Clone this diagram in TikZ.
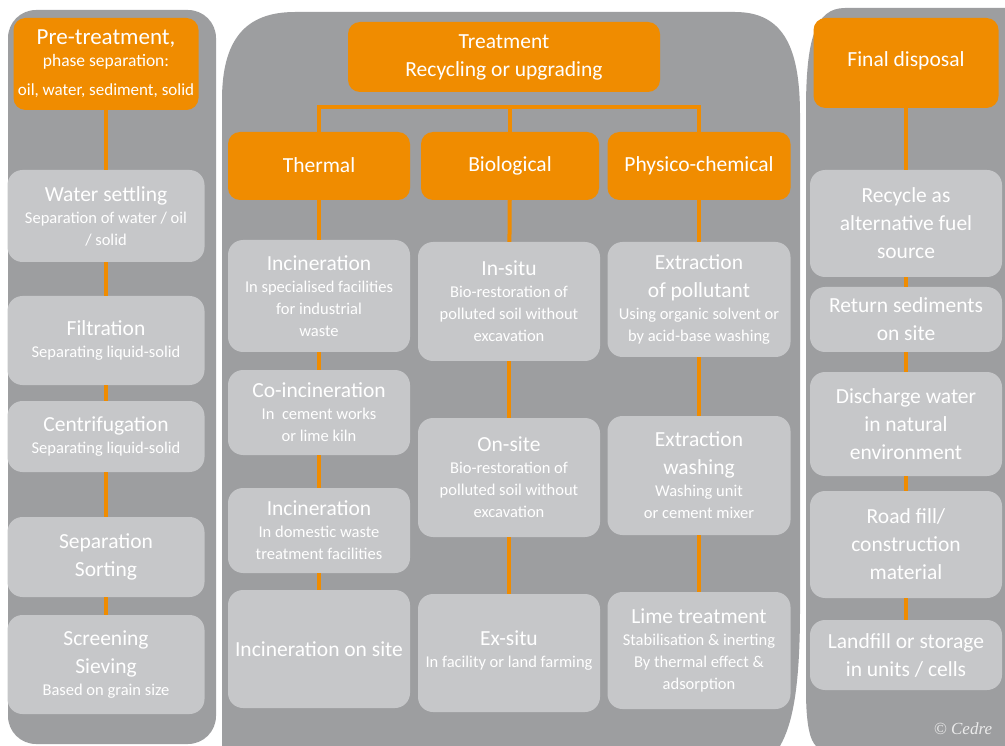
\documentclass[tikz,border=0pt]{standalone}
\usepackage{fontspec}
\setmainfont{Carlito}
\newfontfamily\creditfont{Liberation Serif}
\usepackage{tikz}
\usetikzlibrary{positioning}
\definecolor{panelcolor}{RGB}{157, 158, 160}
\definecolor{stagecolor}{RGB}{198, 199, 201}
\definecolor{headcolor}{RGB}{240, 140, 0}
\newcommand{\boxtitle}{\fontsize{21.5}{28}\selectfont}
\newcommand{\boxnote}{\fontsize{16.5}{22}\selectfont}

\begin{document}
\begin{tikzpicture}[
    x=1pt, y=-1pt,
    panel/.style={fill=panelcolor},
    header/.style={fill=headcolor, rounded corners=12pt, text=white, align=center, inner sep=2pt, font=\boxtitle},
    stage/.style={fill=stagecolor, rounded corners=15pt, text=white, align=center, inner sep=2pt, font=\boxnote},
    link/.style={draw=headcolor, line width=4pt}
]
    \useasboundingbox[fill=white] (0,0) rectangle (1005,746);

    % Panels
    \fill[panel, rounded corners=28pt] (8,10) rectangle (216,744);
    \fill[panel] (222,746) -- (222,100) .. controls (222,40) and (245,12) .. (295,12) -- (735,12) .. controls (785,12) and (800,50) .. (800,115) -- (800,610) .. controls (800,690) and (792,725) .. (780,746) -- cycle;
    \fill[panel] (1005,8) -- (845,8) .. controls (815,8) and (806,40) .. (806,110) -- (806,690) .. controls (806,725) and (810,740) .. (816,746) -- (1005,746) -- cycle;

    % Pre-treatment
    \node[header, font=\boxnote, minimum width=185, minimum height=92] (prehead) at (106, 64) {{\fontsize{23}{28}\selectfont Pre-treatment,}\\{\fontsize{17.5}{20}\selectfont phase separation:}\\[7pt]{\fontsize{17}{20}\selectfont oil, water, sediment, solid}};
    \node[stage, minimum width=197, minimum height=92] (settle) at (106, 216) {{\boxtitle Water settling}\\Separation of water / oil\\/ solid};
    \node[stage, minimum width=197, minimum height=89] (filter) at (106, 340.5) {{\boxtitle Filtration}\\Separating liquid-solid};
    \node[stage, minimum width=197, minimum height=71] (centri) at (106, 436.5) {{\boxtitle Centrifugation}\\Separating liquid-solid};
    \node[stage, font=\boxtitle, minimum width=197, minimum height=80] (sorting) at (106, 557) {Separation\\Sorting};
    \node[stage, minimum width=197, minimum height=99] (sieving) at (106, 664.5) {{\boxtitle Screening}\\[6pt]{\boxtitle Sieving}\\Based on grain size};

    % Treatment
    \node[header, minimum width=312, minimum height=70] (treat) at (504, 57) {Treatment\\Recycling or upgrading};
    \node[header, minimum width=182, minimum height=68] (thermal) at (319, 166) {\raisebox{2pt}{Thermal}};
    \node[header, minimum width=178, minimum height=68] (bio) at (510, 166) {\raisebox{2pt}{Biological}};
    \node[header, minimum width=183, minimum height=68] (physchem) at (699, 166) {\raisebox{2pt}{Physico-chemical}};

    % Thermal column
    \node[stage, minimum width=182, minimum height=112] (incind) at (319, 296) {{\boxtitle Incineration}\\In specialised facilities\\for industrial\\waste};
    \node[stage, minimum width=182, minimum height=85] (coinc) at (319, 412.5) {{\boxtitle Co-incineration}\\In\ \ cement works\\or lime kiln};
    \node[stage, minimum width=182, minimum height=85] (incdom) at (319, 530.5) {{\boxtitle Incineration}\\In domestic waste\\treatment facilities};
    \node[stage, font=\boxtitle, minimum width=182, minimum height=118] (incsite) at (319, 649) {Incineration on site};

    % Biological column
    \node[stage, minimum width=182, minimum height=119] (insitu) at (509, 301.5) {{\boxtitle In-situ}\\Bio-restoration of\\polluted soil without\\excavation};
    \node[stage, minimum width=182, minimum height=119] (onsite) at (509, 477.5) {{\boxtitle On-site}\\Bio-restoration of\\polluted soil without\\excavation};
    \node[stage, minimum width=182, minimum height=118] (exsitu) at (509, 653) {\raisebox{8pt}{\boxtitle Ex-situ}\\\raisebox{8pt}{In facility or land farming}};

    % Physico-chemical column
    \node[stage, minimum width=183, minimum height=115] (extract) at (699, 299.5) {{\boxtitle Extraction}\\[6pt]{\boxtitle of pollutant}\\Using organic solvent or\\by acid-base washing};
    \node[stage, minimum width=183, minimum height=119] (washing) at (699, 475.5) {{\boxtitle Extraction}\\[6pt]{\boxtitle washing}\\Washing unit\\or cement mixer};
    \node[stage, minimum width=183, minimum height=117] (lime) at (699, 650.5) {{\boxtitle Lime treatment}\\Stabilisation \& inerting\\By thermal effect \&\\adsorption};

    % Final disposal
    \node[header, minimum width=185, minimum height=90] (finalhead) at (906, 63) {\raisebox{8pt}{Final disposal}};
    \node[stage, font=\boxtitle, minimum width=192, minimum height=107] (fuel) at (906, 223.5) {Recycle as\\alternative fuel\\source};
    \node[stage, font=\boxtitle, minimum width=192, minimum height=65] (sediments) at (906, 319.5) {Return sediments\\on site};
    \node[stage, font=\boxtitle, minimum width=192, minimum height=104] (discharge) at (906, 424) {Discharge water\\in natural\\environment};
    \node[stage, font=\boxtitle, minimum width=192, minimum height=107] (roadfill) at (906, 544.5) {Road fill/\\construction\\material};
    \node[stage, font=\boxtitle, minimum width=192, minimum height=70] (landfill) at (906, 655) {Landfill or storage\\in units / cells};

    \node[text=white!92!black, font=\creditfont\itshape\fontsize{17}{20}\selectfont] (credit) at (963, 729) {\textcopyright\ Cedre};

    % Connections
    \draw[link] (prehead) -- (settle);
    \draw[link] (settle) -- (filter);
    \draw[link] (filter) -- (centri);
    \draw[link] (centri) -- (sorting);
    \draw[link] (sorting) -- (sieving);

    \draw[link] (thermal.north) -- ++(0,-25) -| (physchem.north);
    \draw[link] (bio.north) -- ++(0,-25);

    \draw[link] (thermal) -- (incind);
    \draw[link] (incind) -- (coinc);
    \draw[link] (coinc) -- (incdom);
    \draw[link] (incdom) -- (incsite);
    \draw[link] (bio) -- (insitu);
    \draw[link] (insitu) -- (onsite);
    \draw[link] (onsite) -- (exsitu);
    \draw[link] (physchem) -- (extract);
    \draw[link] (extract) -- (washing);
    \draw[link] (washing) -- (lime);

    \draw[link] (finalhead) -- (fuel);
    \draw[link] (fuel) -- (sediments);
    \draw[link] (sediments) -- (discharge);
    \draw[link] (discharge) -- (roadfill);
    \draw[link] (roadfill) -- (landfill);

\end{tikzpicture}
\end{document}
